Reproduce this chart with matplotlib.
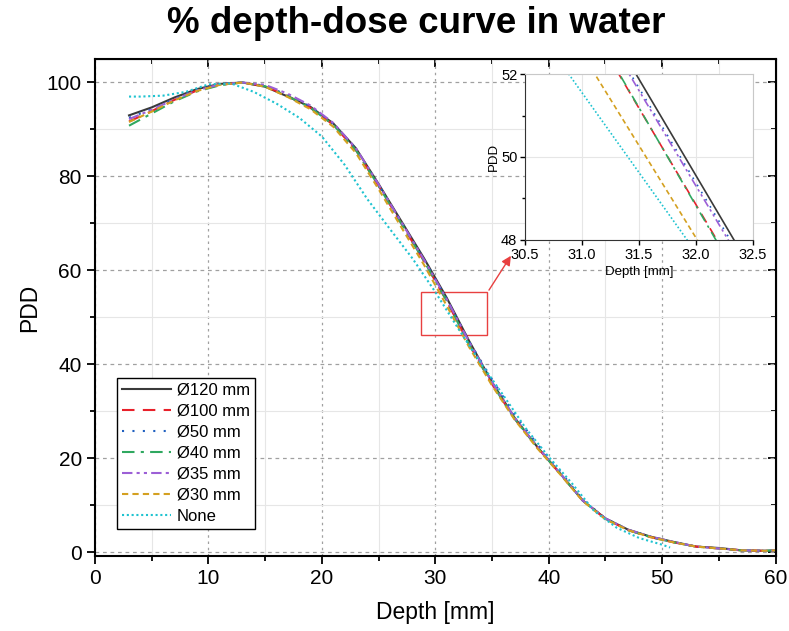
import numpy as np
import matplotlib
matplotlib.use("Agg")
import matplotlib.pyplot as plt
from matplotlib.patches import Rectangle
from matplotlib.ticker import MultipleLocator

plt.rcParams['font.family'] = ['Liberation Sans', 'DejaVu Sans']

# depth points (mm) for the collimated fields
depth = [3, 5, 7, 9, 11, 13, 15, 17, 19, 21, 23, 25, 27, 29, 31, 33, 35, 37, 39,
         41, 43, 45, 47, 49, 51, 53, 55, 57, 59, 60]

pdd_120 = [93.0, 94.7, 96.8, 98.6, 99.7, 100.0, 99.1, 97.0, 94.8, 91.3, 86.0, 78.4, 70.5, 62.6,
           54.2, 44.9, 36.2, 28.6, 22.4, 16.8, 11.0, 7.2, 4.8, 3.3, 2.2, 1.2, 0.9, 0.4, 0.3, 0.4]
pdd_100 = [91.7, 93.9, 96.3, 98.3, 99.5, 100.0, 99.2, 97.1, 94.6, 91.0, 85.6, 78.0, 70.0, 62.0,
           53.5, 44.2, 35.8, 28.4, 22.3, 16.7, 11.0, 7.1, 4.7, 3.2, 2.1, 1.2, 0.8, 0.4, 0.3, 0.4]
pdd_50 = [92.5, 94.3, 96.5, 98.4, 99.6, 100.0, 99.3, 97.3, 94.9, 91.2, 85.8, 78.2, 70.3, 62.3,
          53.95, 44.8, 36.8, 29.3, 23.0, 17.2, 11.2, 7.2, 4.8, 3.3, 2.2, 1.2, 0.8, 0.4, 0.3, 0.4]
pdd_40 = [90.8, 93.4, 96.0, 98.1, 99.4, 100.0, 99.2, 97.1, 94.6, 91.0, 85.6, 78.0, 70.0, 62.0,
          53.55, 44.1, 35.8, 28.4, 22.3, 16.7, 11.0, 7.1, 4.7, 3.2, 2.1, 1.2, 0.8, 0.4, 0.3, 0.4]
pdd_35 = [92.2, 94.2, 96.4, 98.3, 99.6, 100.0, 99.5, 97.6, 95.1, 91.4, 86.0, 78.3, 70.3, 62.3,
          53.9, 44.7, 36.2, 28.6, 22.4, 16.8, 11.0, 7.2, 4.8, 3.3, 2.2, 1.2, 0.8, 0.4, 0.3, 0.4]
pdd_30 = [91.6, 93.8, 96.2, 98.2, 99.5, 100.0, 99.1, 96.9, 94.3, 90.6, 85.0, 77.3, 69.2, 61.2,
          52.5, 43.6, 35.5, 28.2, 22.1, 16.6, 10.9, 7.0, 4.7, 3.2, 2.1, 1.2, 0.8, 0.4, 0.3, 0.4]

# no collimator
depth_none = [3, 4, 6, 8, 10, 12, 14, 16, 18, 20, 22, 24, 26, 28, 30, 32, 34, 36, 38,
              40, 42, 44, 46, 48, 50, 50.7]
pdd_none = [97.0, 97.0, 97.2, 98.0, 99.6, 99.8, 98.0, 95.5, 92.5, 88.5, 82.5, 75.2, 68.8, 62.5,
            55.4, 47.7, 40.3, 33.4, 26.3, 20.3, 14.8, 8.8, 5.2, 3.0, 1.6, 1.0]

labels = ['Ø120 mm', 'Ø100 mm', 'Ø50 mm', 'Ø40 mm', 'Ø35 mm', 'Ø30 mm', 'None']

series = [(depth, pdd_120, '#3a3a3a', '-'),
          (depth, pdd_100, '#e8202a', (0, (6, 4))),
          (depth, pdd_50, '#2060c0', (0, (1, 4))),
          (depth, pdd_40, '#2fa860', (0, (6, 3, 1.5, 3))),
          (depth, pdd_35, '#9c5fd6', (0, (5, 2, 1.5, 2, 1.5, 2))),
          (depth, pdd_30, '#d4a020', (0, (3, 2))),
          (depth_none, pdd_none, '#1fc3d0', (0, (1, 1.3)))]

fig = plt.figure(figsize=(7.89, 6.31), dpi=100)
ax = fig.add_axes([0.1204, 0.1189, 0.8626, 0.7876])

for (x, y, c, ls), lab in zip(series, labels):
    ax.plot(x, y, color=c, linestyle=ls, lw=1.5, label=lab)

ax.set_xlim(0, 60)
ax.set_ylim(-0.8, 105)
ax.xaxis.set_major_locator(MultipleLocator(10))
ax.xaxis.set_minor_locator(MultipleLocator(5))
ax.yaxis.set_major_locator(MultipleLocator(20))
ax.yaxis.set_minor_locator(MultipleLocator(10))
ax.xaxis.grid(which='major', color='#a0a0a0', linestyle=(0, (2, 3)), lw=0.9)
ax.yaxis.grid(which='major', color='#a0a0a0', linestyle=(0, (3, 3)), lw=0.9)
ax.grid(which='minor', color='#e6e6e6', linestyle='-', lw=0.8)
ax.set_axisbelow(True)
ax.tick_params(which='both', direction='out', labelsize=15, width=1.3)
ax.tick_params(which='major', length=6)
ax.tick_params(which='minor', length=3.5)
for s in ax.spines.values():
    s.set_linewidth(1.5)

# top and right ticks point inwards
top = ax.secondary_xaxis('top')
top.xaxis.set_major_locator(MultipleLocator(10))
top.xaxis.set_minor_locator(MultipleLocator(5))
top.tick_params(which='both', direction='in', labeltop=False, width=1.3)
top.tick_params(which='major', length=6)
top.tick_params(which='minor', length=3.5)
right = ax.secondary_yaxis('right')
right.yaxis.set_major_locator(MultipleLocator(20))
right.yaxis.set_minor_locator(MultipleLocator(10))
right.tick_params(which='both', direction='in', labelright=False, width=1.3)
right.tick_params(which='major', length=6)
right.tick_params(which='minor', length=3.5)

ax.set_xlabel('Depth [mm]', fontsize=16.5, labelpad=9)
ax.set_ylabel('PDD', fontsize=16.5, labelpad=4)
fig.suptitle('% depth-dose curve in water', fontsize=26.5, fontweight='bold', x=0.528, y=0.99)

leg = ax.legend(loc='lower left', bbox_to_anchor=(0.033, 0.055), borderaxespad=0,
                fontsize=12, handlelength=2.9, handletextpad=0.35, labelspacing=0.36,
                fancybox=False, framealpha=1, edgecolor='black', borderpad=0.3)
leg.get_frame().set_linewidth(1.0)

# zoom box and arrow
ax.add_patch(Rectangle((28.7, 46.2), 5.9, 9.1, fill=False, edgecolor='#e84040', lw=1.0))
ax.annotate('', xy=(36.8, 63.6), xytext=(34.6, 55.3),
            arrowprops=dict(arrowstyle='-|>', color='#e84040', lw=1.0, mutation_scale=14))

# inset
ins = fig.add_axes([0.6654, 0.6197, 0.289, 0.263])
for (x, y, c, ls), lab in zip(series, labels):
    ins.plot(x, y, color=c, linestyle=ls, lw=1.2)
ins.set_xlim(30.5, 32.5)
ins.set_ylim(48, 52)
ins.xaxis.set_major_locator(MultipleLocator(0.5))
ins.yaxis.set_major_locator(MultipleLocator(2))
ins.yaxis.set_minor_locator(MultipleLocator(1))
ins.xaxis.set_major_formatter(matplotlib.ticker.FormatStrFormatter('%.1f'))
ins.grid(which='major', color='#e6e6e6', lw=0.8)
ins.tick_params(which='both', direction='out', labelsize=10.5, width=1.0, pad=2)
ins.tick_params(which='major', length=3.5)
ins.tick_params(which='minor', length=2)
ins.spines['left'].set_color('#333333')
ins.spines['bottom'].set_color('#333333')
ins.spines['top'].set_color('#c8c8c8')
ins.spines['right'].set_color('#c8c8c8')
ins.set_xlabel('Depth [mm]', fontsize=9.5, labelpad=3)
ins.set_ylabel('PDD', fontsize=9.5, labelpad=1)

fig.savefig('out.png', dpi=100)
